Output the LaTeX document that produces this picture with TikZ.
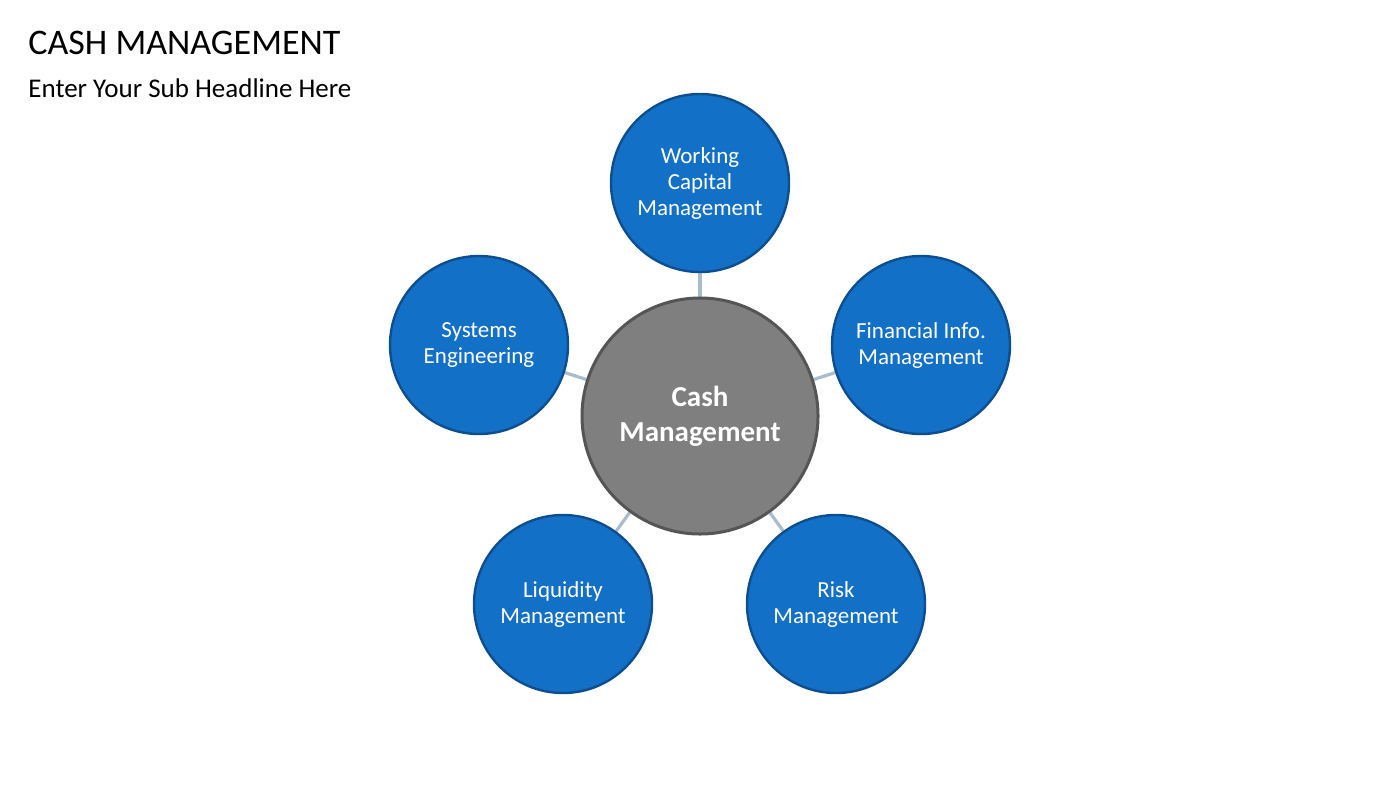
\documentclass[tikz,border=0pt]{standalone}
\usepackage{fontspec}
\setmainfont{Carlito}
\usetikzlibrary{backgrounds}
\begin{document}
\begin{tikzpicture}[x=0.5pt,y=-0.5pt,
  sat/.style={circle,minimum size=89pt,inner sep=0,fill=blue1,draw=blue2,line width=1.2pt,text=white,align=center,font=\fontsize{11.5}{13}\selectfont},
  hub/.style={circle,minimum size=118pt,inner sep=0,fill=gray1,draw=gray2,line width=1.5pt,text=white,align=center,font=\bfseries\fontsize{14.5}{17.5}\selectfont},
  link/.style={draw=linkc,line width=1.6pt}]
\definecolor{blue1}{HTML}{1270C6}
\definecolor{blue2}{HTML}{0D4F8E}
\definecolor{gray1}{HTML}{7F7F7F}
\definecolor{gray2}{HTML}{555555}
\definecolor{linkc}{HTML}{A9BCCB}
\useasboundingbox (0,0) rectangle (1400,788);
\node[anchor=west,inner sep=0,font=\fontsize{18}{21}\selectfont] (title) at (28,43) {CASH MANAGEMENT};
\node[anchor=west,inner sep=0,font=\fontsize{13.5}{16}\selectfont] (sub) at (28,88) {Enter Your Sub Headline Here};
\node[hub] (c) at (700,416) {Cash\\Management};
\node[sat] (t) at (700,183) {Working\\Capital\\Management};
\node[sat] (r) at (921,345) {Financial Info.\\Management};
\node[sat] (l) at (479,345) {Systems\\Engineering};
\node[sat] (bl) at (563,604) {Liquidity\\Management};
\node[sat] (br) at (836,604) {Risk\\Management};
\begin{scope}[on background layer]
\foreach \n in {t,r,l,bl,br} \draw[link] (c) -- (\n);
\end{scope}
\end{tikzpicture}
\end{document}
